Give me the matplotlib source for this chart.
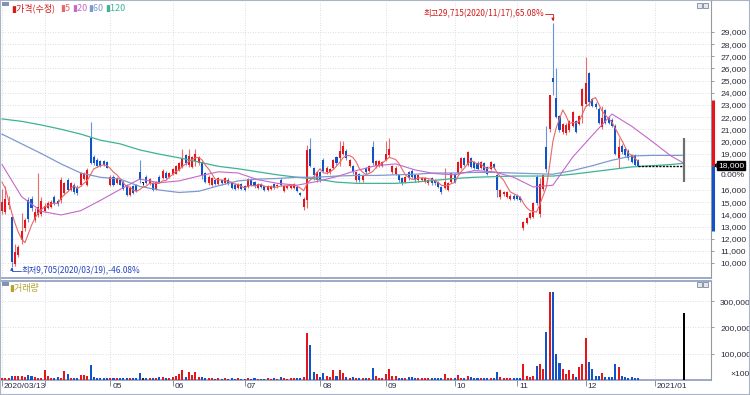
import matplotlib
matplotlib.use("Agg")
import matplotlib.pyplot as plt
from matplotlib.patches import Rectangle
import numpy as np
import pandas as pd

# daily candles (adjusted price, won), index 0 = 2020/03/13
OPEN = [
    14300, 14200, 14800, 13800, 9900, 10650, 11900, 12900, 15200, 15300,
    13550, 13950, 14000, 14300, 14500, 14600, 15400, 15100, 15200, 15750,
    16800, 16000, 16400, 16200, 16400, 16900, 16400, 20250, 18700, 18450,
    18400, 18350, 18300, 16400, 17050, 16600, 16850, 16700, 16400, 15600,
    16300, 16400, 17500, 16600, 17050, 16550, 16550, 16100, 17050, 17000,
    17400, 17100, 17300, 17350, 17650, 17900, 18850, 18100, 17900, 18400,
    18200, 18300, 17400, 16550, 16400, 16800, 16500, 16800, 16600, 16850,
    16550, 16450, 16200, 16500, 16350, 16250, 16850, 16650, 16200, 16500,
    16350, 16000, 16100, 16500, 16300, 16850, 15950, 16150, 16150, 16150,
    16250, 15750, 14600, 15200, 19400, 17850, 16800, 17450, 18450, 17450,
    17450, 17850, 18700, 18600, 19000, 19250, 18000, 18000, 16800, 17300,
    16800, 17800, 17550, 19500, 17950, 18000, 18000, 18450, 18850, 17450,
    17300, 17200, 16950, 16650, 17450, 17600, 17200, 16800, 16850, 16650,
    16550, 16950, 16800, 16650, 16250, 16150, 16000, 16650, 17300, 17400,
    17800, 18600, 18100, 18600, 18300, 18250, 17800, 18200, 17900, 17750,
    18150, 17200, 15400, 15650, 15450, 15300, 15550, 15550, 15400, 12850,
    13300, 13700, 13800, 17050, 14000, 16100, 19500, 21000, 25250, 23600,
    22100, 20750, 20650, 20900, 21300, 21700, 21450, 22900, 23100, 25650,
    23500, 23100, 22700, 21150, 22550, 21950, 21800, 21300, 18600, 19650,
    19400, 19250, 18850, 18850, 18450,
]
HIGH = [
    16100, 16300, 15500, 13900, 11600, 11500, 14100, 13700, 15400, 15500,
    14500, 17400, 15400, 14900, 15100, 15200, 15600, 15300, 17050, 16700,
    17000, 16700, 16600, 16400, 17500, 17500, 17800, 21600, 18900, 18600,
    18500, 18500, 18400, 17200, 17200, 17100, 17000, 16800, 16500, 16300,
    16400, 16500, 18500, 16700, 17200, 17000, 16700, 16750, 17200, 17700,
    17600, 17500, 17800, 18050, 18300, 19400, 19000, 19400, 18800, 19400,
    18800, 18400, 17500, 17200, 17100, 16900, 17050, 16900, 17100, 16950,
    16650, 16550, 16600, 16600, 16450, 17000, 16950, 16750, 16600, 16600,
    16450, 16400, 16450, 16600, 16500, 16950, 16450, 16450, 16500, 16600,
    16350, 15800, 15400, 19700, 20300, 17900, 17550, 17550, 18600, 17950,
    17800, 18550, 18800, 20000, 20000, 19350, 18550, 18100, 17550, 17400,
    17300, 17900, 18050, 20000, 18450, 18450, 18400, 20000, 20250, 18100,
    17950, 17300, 17050, 17150, 17550, 17700, 17300, 17300, 17050, 17050,
    16900, 17050, 16900, 16750, 16350, 17850, 16650, 17500, 17400, 18400,
    18700, 18700, 19200, 18700, 18400, 18350, 18400, 18300, 18000, 18400,
    18250, 17300, 16100, 15950, 15950, 15650, 15650, 15650, 15500, 13450,
    13800, 14200, 15000, 17200, 17000, 17300, 21300, 23800, 29715, 26050,
    22200, 21500, 21500, 21800, 22500, 21800, 22200, 24400, 26950, 25700,
    23600, 23200, 22800, 22950, 22650, 22050, 21900, 21400, 20300, 19750,
    19500, 19350, 18950, 18950, 18550,
]
LOW = [
    14000, 14000, 14400, 9705, 9750, 10500, 11600, 12600, 13400, 14300,
    13400, 13800, 13900, 14200, 14400, 14500, 14800, 14700, 14900, 15600,
    15900, 15900, 15700, 15600, 16300, 16800, 16300, 18150, 18100, 17900,
    17900, 17950, 17800, 16300, 16300, 16500, 16400, 16000, 15500, 15500,
    15700, 15800, 16600, 16400, 16500, 16450, 15900, 16000, 16600, 16900,
    16900, 17000, 17200, 17300, 17600, 17800, 18100, 17900, 17800, 18000,
    18100, 16900, 16550, 16450, 16300, 16400, 16400, 16450, 16500, 16450,
    16100, 16000, 16100, 16000, 15900, 16150, 16300, 16200, 16100, 16150,
    15900, 15900, 16000, 16100, 16200, 16300, 15850, 16050, 16050, 16050,
    15850, 15550, 14350, 14500, 17900, 16800, 16700, 16700, 17500, 17350,
    17350, 17750, 18100, 18000, 18900, 18500, 17900, 17350, 16700, 16700,
    16700, 17350, 17450, 18100, 17850, 17900, 17900, 18350, 18750, 17350,
    17200, 16700, 16450, 16550, 16850, 16950, 16700, 16700, 16750, 16550,
    16450, 16450, 16450, 16150, 15700, 16050, 15900, 16550, 16550, 17300,
    17700, 18000, 18000, 17800, 17700, 17650, 17700, 17550, 17250, 17650,
    17700, 15400, 15300, 15550, 15350, 15200, 15200, 15150, 15050, 12700,
    13200, 13600, 13700, 14800, 13800, 15900, 17500, 20800, 23800, 21900,
    20800, 20600, 20550, 20800, 21200, 20650, 21350, 21500, 22900, 22900,
    22850, 22700, 21450, 21050, 21450, 21450, 21200, 18900, 17850, 19000,
    18750, 18500, 18200, 18000, 17950,
]
CLOSE = [
    15000, 15300, 15000, 10050, 10900, 11300, 12600, 13500, 13600, 14500,
    14200, 14600, 15100, 14700, 14900, 15000, 14950, 14850, 16800, 16550,
    16000, 16550, 15800, 15750, 17400, 17300, 17650, 18200, 18200, 17950,
    18000, 18050, 17850, 17050, 16400, 16950, 16450, 16050, 15600, 16150,
    15750, 15900, 16800, 16600, 16550, 16900, 16000, 16650, 16650, 17600,
    17000, 17400, 17700, 17950, 18200, 18600, 18200, 18800, 18700, 19000,
    18700, 17200, 16650, 17100, 17000, 16500, 16950, 16550, 17000, 16550,
    16200, 16100, 16500, 16100, 16000, 16900, 16400, 16300, 16500, 16250,
    16000, 16300, 16350, 16200, 16400, 16400, 16350, 16350, 16400, 16500,
    15950, 15600, 15250, 19300, 18000, 17200, 17450, 16800, 17600, 17850,
    17700, 18450, 18200, 19250, 19650, 18600, 18450, 17450, 17450, 16800,
    17200, 17450, 17950, 18200, 18350, 18350, 18300, 19000, 19400, 18000,
    17850, 16800, 16550, 17050, 16950, 17050, 16800, 17200, 16950, 16950,
    16800, 16550, 16550, 16250, 15800, 16650, 16550, 17400, 16650, 18300,
    18600, 18100, 19100, 17900, 17800, 17750, 18300, 17650, 17350, 18300,
    17800, 16000, 16000, 15850, 15850, 15550, 15300, 15250, 15150, 13350,
    13700, 14100, 14900, 14900, 16500, 17200, 17750, 23800, 24850, 22000,
    20900, 21400, 21350, 21700, 22400, 20750, 22100, 24300, 24800, 23200,
    22950, 22800, 21550, 21950, 21550, 21550, 21300, 19000, 19500, 19100,
    18850, 18600, 18300, 18100, 18000,
]
# volume, axis units (x100 shares)
VOLUME = [
    5000, 5000, 4000, 12000, 15000, 15000, 13000, 10000, 17000, 15000,
    10000, 7000, 7000, 37000, 15000, 7000, 7000, 9000, 5000, 34000,
    22000, 5000, 7000, 5000, 17000, 17000, 15000, 56000, 9000, 7000,
    5000, 5000, 5000, 6000, 6000, 7000, 5000, 5000, 6000, 6000,
    7000, 6000, 24000, 7000, 7000, 4000, 5000, 7000, 9000, 11000,
    4000, 4000, 9000, 15000, 22000, 35000, 11000, 30000, 19000, 30000,
    11000, 11000, 5000, 4000, 5000, 3000, 4000, 3000, 4000, 3000,
    4000, 3000, 4000, 3000, 3000, 4000, 3000, 4000, 3000, 3000,
    3000, 4000, 3000, 4000, 3000, 8000, 4000, 3000, 7000, 4000,
    6000, 5000, 9000, 180000, 133000, 30000, 21000, 10000, 25000, 13000,
    8000, 37000, 13000, 37000, 24000, 9000, 6000, 8000, 5000, 5000,
    4000, 4000, 5000, 43000, 14000, 6000, 6000, 20000, 40000, 14000,
    12000, 7000, 5000, 5000, 11000, 11000, 5000, 4000, 5000, 4000,
    4000, 5000, 4000, 4000, 5000, 20000, 5000, 6000, 5000, 16000,
    6000, 6000, 14000, 8000, 7000, 5000, 6000, 5000, 5000, 4000,
    5000, 27000, 11000, 7000, 6000, 7000, 5000, 6000, 5000, 60000,
    15000, 11000, 15000, 52000, 60000, 39000, 184000, 335000, 338000, 97000,
    62000, 39000, 23000, 35000, 22000, 9000, 49000, 58000, 158000, 69000,
    42000, 15000, 15000, 24000, 11000, 11000, 11000, 60000, 47000, 13000,
    9000, 7000, 8000, 6000, 6000,
]

# moving averages
MA5_HEAD = [16650, 16150, 15150, 14100]
MA_IDX = [0, 6, 12, 18, 24, 30, 36, 42, 48, 54, 60, 66, 72, 78, 84, 90, 96, 102,
          108, 114, 120, 126, 132, 138, 144, 150, 156, 162, 168, 174, 180, 186,
          192, 198, 204, 208]
MA20 = [18100, 15450, 14250, 13950, 14300, 15150, 16050, 16900, 16600, 16750,
        17150, 17500, 17400, 16850, 16550, 16400, 16700, 17100, 17600, 18000,
        18150, 17650, 17350, 17250, 17600, 17500, 17050, 16250, 16400, 18700,
        20500, 22250, 21250, 20050, 18800, 18200]
MA60 = [20600, 19800, 19000, 18150, 17400, 17050, 16900, 16300, 16000, 15800,
        15900, 16350, 16750, 16900, 16950, 17050, 17050, 17150, 17200, 17200,
        17250, 17300, 17400, 17400, 17450, 17450, 17400, 17350, 17300, 17600,
        18000, 18450, 18800, 18850, 18850, 18850]
MA120 = [21850, 21650, 21350, 21000, 20600, 20100, 19800, 19300, 18950, 18650,
         18300, 17950, 17750, 17500, 17250, 17050, 16900, 16650, 16550, 16550,
         16550, 16650, 16800, 16950, 17050, 17100, 17150, 17150, 17150, 17300,
         17500, 17700, 17900, 18000, 18100, 18200]

TODAY_POS = 208
TODAY_RANGE = [16650, 20300]
TODAY_VOLUME = 255000

MONTH_POS = [0, 13, 33, 52, 74, 97, 117, 138, 157, 178, 199]
MONTH_LABELS = ["2020/03/13", "", "05", "06", "07", "08", "09", "10", "11", "12", "2021/01"]
MAX_DATE = "2020/11/17"
MIN_DATE = "2020/03/19"

PRICE_TICKS = list(range(10000, 30000, 1000))
VOLUME_TICKS = [100000, 200000, 300000]

W, H = 750, 395
UP = "#e2161c"
DOWN = "#1252c8"
FLAT = "#202020"
UP_WICK = "#ec6a6a"
DOWN_WICK = "#6a92da"
C_MA5 = "#e86868"
C_MA20 = "#c468cc"
C_MA60 = "#7c9ad0"
C_MA120 = "#3db394"
FRAME = "#8e9cbc"
GRID = "#cfd3da"
KR = ["Noto Sans CJK KR", "DejaVu Sans"]

plt.rcParams["font.family"] = ["Liberation Sans", "DejaVu Sans"]


def px_box(left, top, right, bottom):
    return [left / W, 1 - bottom / H, (right - left) / W, (bottom - top) / H]


def put_text(fig, x, y, s, **kw):
    fig.text(x / W, 1 - y / H, s, **kw)


def style_axes(ax):
    for side in ["left", "top", "bottom", "right"]:
        ax.spines[side].set_visible(False)
    ax.spines["right"].set_visible(True)
    ax.spines["right"].set_color("#9a9a9a")
    ax.spines["right"].set_linewidth(0.8)
    ax.yaxis.tick_right()
    ax.tick_params(axis="y", direction="out", length=2, width=0.6, color="#8a8a8a",
                   pad=4.5, labelsize=6.1, labelcolor="#2b2b3a")
    ax.set_xticks(MONTH_POS)
    ax.grid(True, color=GRID, lw=0.6, linestyle=(0, (1, 2)))
    ax.set_axisbelow(True)
    ax.set_xlim(-0.61, 216.2)


def main():
    fig = plt.figure(figsize=(W / 100, H / 100), dpi=100)
    ax_p = fig.add_axes(px_box(0, 1, 711, 278))
    ax_v = fig.add_axes(px_box(0, 281, 711, 380))

    idx = np.arange(len(CLOSE))
    o = np.array(OPEN, float)
    h = np.array(HIGH, float)
    l = np.array(LOW, float)
    c = np.array(CLOSE, float)
    colors = np.where(c > o, UP, np.where(c < o, DOWN, FLAT))
    wick_colors = np.where(c > o, UP_WICK, np.where(c < o, DOWN_WICK, FLAT))

    # price panel
    style_axes(ax_p)
    ax_p.set_ylim(8765, 31548)
    ax_p.tick_params(axis="x", length=0, labelbottom=False)
    ax_p.spines["bottom"].set_visible(True)
    ax_p.spines["bottom"].set_color(FRAME)
    ax_p.spines["bottom"].set_linewidth(1.2)

    last = CLOSE[-1]
    ax_p.set_yticks(PRICE_TICKS)
    ax_p.set_yticklabels(["" if 0 <= last - t < 1500 else f"{t:,}" for t in PRICE_TICKS])

    ax_p.vlines(idx, l, h, colors=wick_colors, lw=0.8, zorder=3)
    ax_p.bar(idx, np.maximum(np.abs(c - o), 40), bottom=np.minimum(o, c), width=0.62,
             color=colors, lw=0, zorder=4)

    ma5 = pd.Series(CLOSE, dtype=float).rolling(5).mean().to_numpy()
    ma5[:len(MA5_HEAD)] = MA5_HEAD
    ax_p.plot(MA_IDX, MA120, color=C_MA120, lw=0.9, zorder=5)
    ax_p.plot(MA_IDX, MA60, color=C_MA60, lw=0.9, zorder=5)
    ax_p.plot(MA_IDX, MA20, color=C_MA20, lw=0.8, zorder=5)
    ax_p.plot(idx, ma5, color=C_MA5, lw=0.8, zorder=6)

    ax_p.hlines(last, idx[-1], TODAY_POS, colors="black", linestyles=(0, (1.5, 1)), lw=1.0, zorder=6)
    ax_p.vlines(TODAY_POS, TODAY_RANGE[0], TODAY_RANGE[1], colors="#6e6e6e", lw=1.6, zorder=6)

    # price limit band on the axis (+/-30%)
    trans = ax_p.get_yaxis_transform()
    ax_p.plot([1.003, 1.003], [last, last * 1.3], transform=trans, color=UP, lw=2.2,
              clip_on=False, solid_capstyle="butt", zorder=7)
    ax_p.plot([1.003, 1.003], [last * 0.7, last], transform=trans, color=DOWN, lw=2.2,
              clip_on=False, solid_capstyle="butt", zorder=7)
    ax_p.annotate(f"{last:,}", xy=(1, last), xycoords=trans, xytext=(5, 0),
                  textcoords="offset points", ha="left", va="center", size=6.1,
                  color="white", annotation_clip=False,
                  bbox=dict(boxstyle="square,pad=0.15", fc="black", ec="black"))
    ax_p.annotate("◀", xy=(1, last), xycoords=trans, xytext=(1, 0),
                  textcoords="offset points", ha="left", va="center", size=4.5,
                  color="black", family="DejaVu Sans", annotation_clip=False)
    ax_p.annotate("0.00%", xy=(1, last), xycoords=trans, xytext=(7, -7),
                  textcoords="offset points", ha="left", va="center", size=6.1,
                  color="#2b2b3a", annotation_clip=False)

    # high / low markers
    imax = int(np.argmax(h))
    imin = int(np.argmin(l))
    hi_pct = (h[imax] / last - 1) * 100
    lo_pct = (l[imin] / last - 1) * 100
    ax_p.annotate(f"최고{int(h[imax]):,}({MAX_DATE}),{hi_pct:.2f}%", xy=(imax, h[imax]),
                  xytext=(-6, 6.8), textcoords="offset points", ha="right", va="center",
                  size=6, color="#d21a1a", family=KR)
    ax_p.annotate("", xy=(imax, h[imax]), xytext=(-5.5, 6.8), textcoords="offset points",
                  arrowprops=dict(arrowstyle="-|>", connectionstyle="angle,angleA=0,angleB=90,rad=0",
                                  color="#d21a1a", lw=0.6, shrinkA=0, shrinkB=1.5,
                                  mutation_scale=4))
    ax_p.annotate(f"최저{int(l[imin]):,}({MIN_DATE}),{lo_pct:.2f}%", xy=(imin, l[imin]),
                  xytext=(7, -2.6), textcoords="offset points", ha="left", va="center",
                  size=6, color="#2446c0", family=KR)
    ax_p.annotate("", xy=(imin, l[imin]), xytext=(6.5, -3), textcoords="offset points",
                  arrowprops=dict(arrowstyle="-|>", connectionstyle="angle,angleA=0,angleB=90,rad=0",
                                  color="#2446c0", lw=0.6, shrinkA=0, shrinkB=0.5,
                                  mutation_scale=4))

    # volume panel
    style_axes(ax_v)
    ax_v.set_ylim(-1900, 378800)
    for side in ["top", "bottom"]:
        ax_v.spines[side].set_visible(True)
        ax_v.spines[side].set_color(FRAME)
        ax_v.spines[side].set_linewidth(1.2)
    ax_v.set_yticks(VOLUME_TICKS)
    ax_v.set_yticklabels([f"{t:,}" for t in VOLUME_TICKS])
    ax_v.tick_params(axis="x", direction="out", length=4, width=0.6, color="#7a7a8a",
                     labelbottom=False)
    ax_v.bar(idx, VOLUME, width=0.62, color=colors, lw=0, zorder=3)
    ax_v.bar(TODAY_POS, TODAY_VOLUME, width=0.62, color="black", lw=0, zorder=3)
    for pos, lab in zip(MONTH_POS, MONTH_LABELS):
        ax_v.annotate(lab, xy=(pos, 0), xycoords=ax_v.get_xaxis_transform(),
                      xytext=(1.5, -2), textcoords="offset points", ha="left", va="top",
                      size=6, color="#2b2b4a", annotation_clip=False)
    ax_v.annotate("×100", xy=(1, 0.06), xycoords="axes fraction", xytext=(14, 0),
                  textcoords="offset points", ha="left", va="center", size=6.1,
                  color="#2b2b3a", annotation_clip=False)

    # legends
    fig.patches.append(Rectangle((2 / W, 1 - 6 / H), 7 / W, 4 / H, transform=fig.transFigure,
                                 fc="#8392b4", ec="none"))
    fig.patches.append(Rectangle((2 / W, 1 - 286 / H), 7 / W, 4 / H, transform=fig.transFigure,
                                 fc="#8392b4", ec="none"))
    legend_items = [("▮가격(수정)", "#d41a1a", 11), ("▮5", C_MA5, 60), ("▮20", C_MA20, 72),
                    ("▮60", C_MA60, 88), ("▮120", C_MA120, 105)]
    for s, col, x in legend_items:
        put_text(fig, x, 8, s, color=col, size=6.5, va="center", ha="left", family=KR)
    put_text(fig, 9, 288, "▮거래량", color="#b5a22a", size=6.5, va="center", ha="left", family=KR)

    for y in (3, 282):
        for x in (697, 703):
            fig.patches.append(Rectangle((x / W, 1 - (y + 5) / H), 5 / W, 5 / H,
                                         transform=fig.transFigure, fc="#e4e8ee",
                                         ec="#7d8798", lw=0.6))

    fig.patches.append(Rectangle((0, 0), 1, 1, transform=fig.transFigure, fill=False,
                                 ec="#a9b4c8", lw=1.5))

    fig.savefig("out.png", dpi=100)
    plt.close(fig)


if __name__ == "__main__":
    main()
